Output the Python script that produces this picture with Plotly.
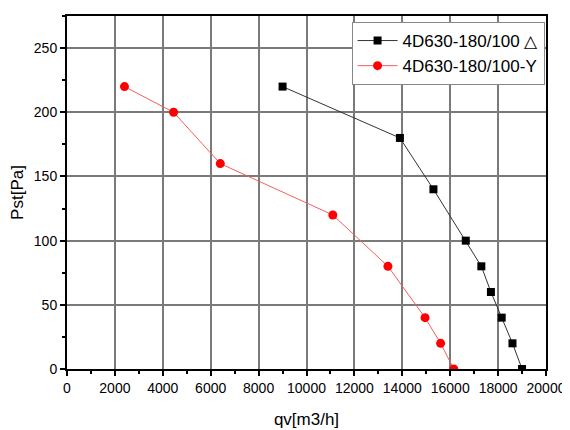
import plotly.graph_objects as go

# fan curves
qv_delta = [9000, 13900, 15300, 16650, 17300, 17700, 18150, 18600, 19000]
pst_delta = [220, 180, 140, 100, 80, 60, 40, 20, 0]

qv_y = [2400, 4450, 6400, 11100, 13400, 14950, 15600, 16150]
pst_y = [220, 200, 160, 120, 80, 40, 20, 0]

names = ["4D630-180/100 \u25b3", "4D630-180/100-Y"]

fig = go.Figure()
fig.add_trace(go.Scatter(x=qv_delta, y=pst_delta, mode="lines+markers", name=names[0],
                         line=dict(color="#333333", width=1),
                         marker=dict(symbol="square", size=8, color="black")))
fig.add_trace(go.Scatter(x=qv_y, y=pst_y, mode="lines+markers", name=names[1],
                         line=dict(color="#f06060", width=1),
                         marker=dict(symbol="circle", size=9, color="red")))

axis_common = dict(showline=True, linecolor="black", linewidth=2, mirror=True,
                   ticks="outside", ticklen=5, tickwidth=1.5, tickcolor="black",
                   showgrid=True, gridcolor="#7a7a7a", gridwidth=1.5, zeroline=False,
                   automargin=False,
                   tickfont=dict(family="Liberation Sans, Arial", size=14, color="black"))

# page body has an 8px margin, so the figure is a bit smaller than the window
fig.update_layout(
    width=562, height=422,
    margin=dict(l=59, r=24, t=8, b=61),
    paper_bgcolor="white", plot_bgcolor="white",
    font=dict(family="Liberation Sans, Arial", color="black"),
    xaxis=dict(range=[0, 20000], dtick=2000, tickformat="d",
               title=dict(text="qv[m3/h]", font=dict(size=17), standoff=18),
               minor=dict(dtick=1000, ticks="outside", ticklen=3, tickcolor="black", showgrid=False),
               **axis_common),
    yaxis=dict(range=[0, 275], dtick=50,
               title=dict(text="Pst[Pa]", font=dict(size=17), standoff=12),
               minor=dict(dtick=25, ticks="outside", ticklen=3, tickcolor="black", showgrid=False),
               **axis_common),
    legend=dict(x=0.997, y=0.983, xanchor="right", yanchor="top",
                bgcolor="white", bordercolor="#888888", borderwidth=1,
                font=dict(size=17), tracegroupgap=0, itemwidth=40),
)

fig.write_html("out.html")
